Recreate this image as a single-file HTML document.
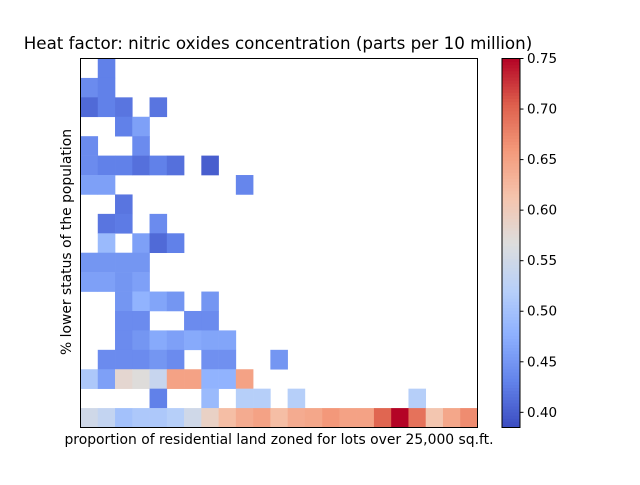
<!DOCTYPE html>
<html><head><meta charset="utf-8"><style>
body{margin:0;background:#fff;}
svg text{font-family:"DejaVu Sans","Liberation Sans",sans-serif;fill:#000;}
</style></head><body>
<svg id="chart" width="640" height="480" xmlns="http://www.w3.org/2000/svg">
<rect width="640" height="480" fill="#fff"/>
<text x="278" y="49" font-size="16.7" text-anchor="middle">Heat factor: nitric oxides concentration (parts per 10 million)</text>
<g id="cells"></g>
<rect x="80.5" y="58.5" width="397" height="369" fill="none" stroke="#000" stroke-width="1"/>
<text x="279" y="444" font-size="13.9" text-anchor="middle">proportion of residential land zoned for lots over 25,000 sq.ft.</text>
<text x="0" y="0" font-size="13.9" text-anchor="middle" transform="translate(71,242) rotate(-90)">% lower status of the population</text>
<g id="cbar"></g>
</svg>
<script>
const nCols = 23, nRows = 19;
const vMin = 0.385, vMax = 0.75;
const cbTicks = [0.40,0.45,0.50,0.55,0.60,0.65,0.70,0.75];
const cellRow = [0,1,1,2,2,2,2,3,3,4,4,5,5,5,5,5,5,5,6,6,6,7,8,8,8,9,9,9,9,
10,10,10,10,11,11,11,11,12,12,12,12,12,13,13,13,13,14,14,14,14,14,14,14,
15,15,15,15,15,15,15,15,16,16,16,16,16,16,16,16,16,16,17,17,17,17,17,17,
18,18,18,18,18,18,18,18,18,18,18,18,18,18,18,18,18,18,18,18,18,18,18];
const cellCol = [1,0,1,0,1,2,4,2,3,0,3,0,1,2,3,4,5,7,0,1,9,2,1,2,4,1,3,4,5,
0,1,2,3,0,1,2,3,2,3,4,5,7,2,3,6,7,2,3,4,5,6,7,8,
1,2,3,4,5,7,8,11,0,1,2,3,4,5,6,7,8,9,4,7,9,10,12,19,
0,1,2,3,4,5,6,7,8,9,10,11,12,13,14,15,16,17,18,19,20,21,22];
const cellValue = [0.43,0.44,0.43,0.41,0.43,0.42,0.42,0.43,0.46,0.44,0.44,0.44,0.43,0.43,0.415,0.43,0.415,0.40,0.46,0.46,0.435,0.42,0.42,0.425,0.44,0.49,0.46,0.41,0.43,
0.45,0.45,0.45,0.45,0.46,0.46,0.45,0.46,0.45,0.48,0.465,0.45,0.45,0.44,0.44,0.44,0.44,0.44,0.45,0.47,0.46,0.47,0.465,0.465,
0.44,0.44,0.44,0.45,0.44,0.445,0.445,0.45,0.51,0.46,0.58,0.57,0.54,0.65,0.65,0.48,0.48,0.65,0.43,0.49,0.52,0.52,0.52,0.52,
0.55,0.535,0.50,0.51,0.51,0.52,0.55,0.59,0.62,0.64,0.65,0.62,0.64,0.645,0.66,0.65,0.65,0.70,0.75,0.69,0.61,0.645,0.67];
const stops=[[59,76,192],[98,130,234],[141,176,254],[184,208,249],[221,221,221],[245,196,173],[244,154,123],[222,96,77],[180,4,38]];
function cmap(v){let t=Math.max(0,Math.min(1,(v-vMin)/(vMax-vMin)))*8;let i=Math.min(7,Math.floor(t));let f=t-i;
 const c=stops[i].map((a,k)=>Math.round(a+(stops[i+1][k]-a)*f));return `rgb(${c[0]},${c[1]},${c[2]})`;}
const X0=80.5,X1=477.5,Y0=58.5,Y1=427.5;
const cw=(X1-X0)/nCols, ch=(Y1-Y0)/nRows;
function xs(c){return X0+c*cw;} function ys(r){return Y0+r*ch;}
const NS="http://www.w3.org/2000/svg";
const g=document.getElementById('cells');
for(let i=0;i<cellValue.length;i++){
 const r=document.createElementNS(NS,'rect');
 r.setAttribute('x',xs(cellCol[i]));r.setAttribute('y',ys(cellRow[i]));
 r.setAttribute('width',cw+0.3);r.setAttribute('height',ch+0.3);
 r.setAttribute('fill',cmap(cellValue[i]));
 
 
 g.appendChild(r);
}
const cb=document.getElementById('cbar');
const CX=502,CW=18,CY0=58.5,CY1=427.5;
function cy(v){return CY1-(v-vMin)/(vMax-vMin)*(CY1-CY0);}
for(let k=0;k<120;k++){
 const v0=vMin+(vMax-vMin)*k/120,v1=vMin+(vMax-vMin)*(k+1)/120;
 const r=document.createElementNS(NS,'rect');
 r.setAttribute('x',CX);r.setAttribute('y',cy(v1));r.setAttribute('width',CW);r.setAttribute('height',cy(v0)-cy(v1)+0.5);
 r.setAttribute('fill',cmap((v0+v1)/2));
 
 
 cb.appendChild(r);
}
const fr=document.createElementNS(NS,'rect');
fr.setAttribute('x',CX);fr.setAttribute('y',CY0);fr.setAttribute('width',CW);fr.setAttribute('height',CY1-CY0);
fr.setAttribute('fill','none');fr.setAttribute('stroke','#000');fr.setAttribute('stroke-width','1');


cb.appendChild(fr);
cbTicks.forEach(v=>{
 const y=cy(v);
 const l=document.createElementNS(NS,'line');
 l.setAttribute('x1',CX+CW);l.setAttribute('x2',CX+CW+3.5);l.setAttribute('y1',y);l.setAttribute('y2',y);l.setAttribute('stroke','#000');
 
 
 cb.appendChild(l);
 const t=document.createElementNS(NS,'text');
 t.setAttribute('x',CX+CW+7);t.setAttribute('y',y+4.5);t.setAttribute('font-size','13.5');
 t.textContent=v.toFixed(2);
 
 
 cb.appendChild(t);
});
</script>
</body></html>
